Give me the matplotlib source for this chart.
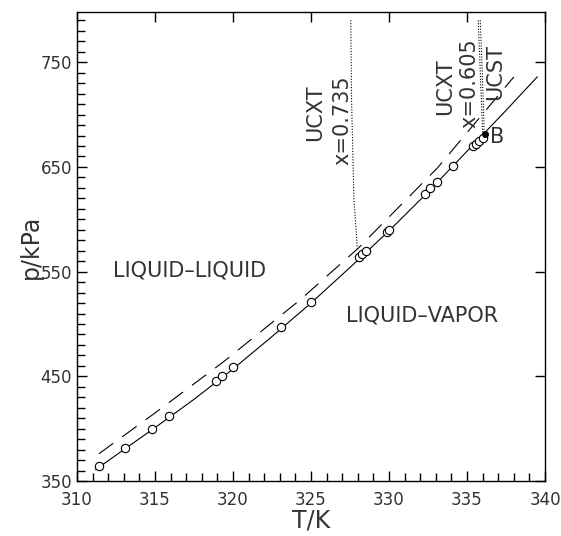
#!/usr/bin/env python3

import matplotlib
matplotlib.use('Agg')
import matplotlib.pyplot as plt

# experimental points
T_EXP = [311.4, 313.1, 314.8, 315.9, 318.9, 319.3, 320.0, 323.1, 325.0,
         328.1, 328.3, 328.5, 329.85, 330.0, 332.3, 332.6, 333.1, 334.1,
         335.4, 335.6, 335.8, 336.0]
P_EXP = [364, 382, 400, 412, 446, 450, 459, 497, 521,
         564, 567, 570, 588, 590, 624, 630, 636, 651,
         670, 672, 675, 678]

# point B (filled)
T_B = [336.15]
P_B = [681]

# solid curve (liquid-vapor)
T_SOLID = [311.2, 313.1, 315.0, 317.5, 320.0, 322.5, 325.0, 327.5, 330.0,
           332.5, 335.0, 337.5, 339.5]
P_SOLID = [361, 381, 401, 428, 457, 488, 520, 554, 589,
           626, 665, 704, 736]

# dashed curve
T_DASH = [311.4, 315.0, 319.4, 324.3, 328.0, 333.1, 338.0]
P_DASH = [376, 415, 464, 523, 572, 649, 736]

# dotted critical lines
T_UCXT1 = [327.55, 327.6, 327.75, 327.97]
P_UCXT1 = [790, 714, 619, 572]
T_UCXT2 = [335.72, 335.85, 336.0]
P_UCXT2 = [790, 740, 683]
T_UCST = [335.85, 335.98, 336.1]
P_UCST = [790, 740, 683]

T_TICKS = [310, 315, 320, 325, 330, 335, 340]
P_TICKS = [350, 450, 550, 650, 750]
T_MINOR = [t for t in range(311, 340) if t % 5 != 0]
P_MINOR = [p for p in range(360, 800, 10) if (p - 350) % 100 != 0]

TXT = '#333333'


def main():
  fig = plt.figure(figsize=(5.61, 5.36), dpi=100)
  ax = fig.add_axes([0.1373, 0.1026, 0.8342, 0.875])

  ax.plot(T_SOLID, P_SOLID, color='black', lw=0.8)
  ax.plot(T_DASH, P_DASH, color='black', lw=0.8, linestyle=(0, (16, 10)))
  ax.plot(T_UCXT1, P_UCXT1, color='black', lw=0.8, linestyle=(0, (1, 1.5)))
  ax.plot(T_UCXT2, P_UCXT2, color='black', lw=0.8, linestyle=(0, (1, 1.5)))
  ax.plot(T_UCST, P_UCST, color='black', lw=0.8, linestyle=(0, (1, 1.5)))
  ax.plot(T_EXP, P_EXP, linestyle='none', marker='o', ms=6,
          mfc='white', mec='black', mew=0.8)
  ax.plot(T_B, P_B, linestyle='none', marker='o', ms=4,
          mfc='black', mec='black')

  ax.set_xlim(310, 340)
  ax.set_ylim(350, 798)
  ax.set_xticks(T_TICKS)
  ax.set_yticks(P_TICKS)
  ax.set_xticks(T_MINOR, minor=True)
  ax.set_yticks(P_MINOR, minor=True)
  ax.tick_params(which='both', direction='in', colors='black',
                 labelcolor=TXT, labelsize=12)
  ax.tick_params(which='major', length=7, width=1.0, top=True, right=True)
  ax.tick_params(which='minor', length=6, width=1.0, bottom=True, left=True,
                 top=False, right=False)
  ax.tick_params(axis='x', pad=7)
  for sp in ax.spines.values():
    sp.set_linewidth(1.0)

  ax.set_xlabel('T/K', fontsize=17, color=TXT, labelpad=0)
  ax.set_ylabel('p/kPa', fontsize=17, color=TXT, labelpad=-2)

  ax.text(325.25, 702, 'UCXT', rotation=90, fontsize=15, color=TXT,
          ha='center', va='center')
  ax.text(327.0, 695, 'x=0.735', rotation=90, fontsize=15, color=TXT,
          ha='center', va='center')
  ax.text(333.6, 727, 'UCXT', rotation=90, fontsize=15, color=TXT,
          ha='center', va='center')
  ax.text(335.15, 730, 'x=0.605', rotation=90, fontsize=15, color=TXT,
          ha='center', va='center')
  ax.text(336.8, 741, 'UCST', rotation=90, fontsize=15, color=TXT,
          ha='center', va='center')
  ax.text(336.5, 679, 'B', fontsize=15, color=TXT, ha='left', va='center')
  ax.text(317.2, 551, 'LIQUID\u2013LIQUID', fontsize=15, color=TXT,
          ha='center', va='center')
  ax.text(332.1, 508, 'LIQUID\u2013VAPOR', fontsize=15, color=TXT,
          ha='center', va='center')

  fig.savefig('out.png', dpi=100)


if __name__ == '__main__':
  main()
